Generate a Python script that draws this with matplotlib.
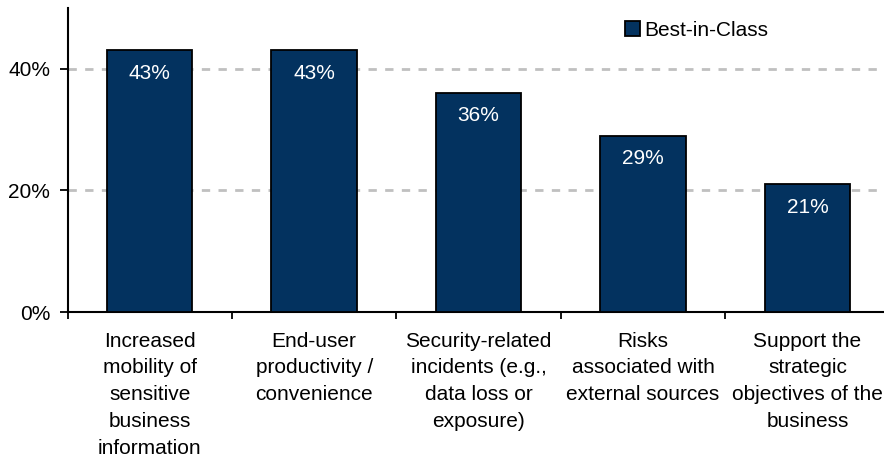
import matplotlib
matplotlib.use("Agg")
import matplotlib.pyplot as plt
from matplotlib.ticker import FuncFormatter, FixedLocator

plt.rcParams['font.family'] = ['Liberation Sans', 'DejaVu Sans']

categories = [
    "Increased\nmobility of\nsensitive\nbusiness\ninformation",
    "End-user\nproductivity /\nconvenience",
    "Security-related\nincidents (e.g.,\ndata loss or\nexposure)",
    "Risks\nassociated with\nexternal sources",
    "Support the\nstrategic\nobjectives of the\nbusiness",
]
best_in_class = [0.43, 0.43, 0.36, 0.29, 0.21]
bar_color = "#03325F"
fs = 15

fig = plt.figure(figsize=(8.84, 4.61), dpi=100)
ax = fig.add_axes([0.0764, 0.323, 0.93, 0.66])

x = list(range(len(categories)))
ax.bar(x, best_in_class, width=0.52, color=bar_color, edgecolor="black",
       linewidth=1.3, label="Best-in-Class", zorder=3)

for xi, v in zip(x, best_in_class):
    ax.text(xi, v - 0.022, f"{v*100:.0f}%", ha="center", va="top",
            color="white", fontsize=fs, zorder=4)

ax.set_xlim(-0.5, 4.5)
ax.set_ylim(0, 0.5)
ax.set_yticks([0, 0.2, 0.4])
ax.yaxis.set_major_formatter(FuncFormatter(lambda v, p: f"{v*100:.0f}%"))
ax.tick_params(axis="y", labelsize=fs, length=5.5, width=1.3, direction="out", pad=7)

# category labels centered, ticks between categories
ax.set_xticks(x)
ax.set_xticklabels(categories, fontsize=fs, linespacing=1.52)
ax.tick_params(axis="x", which="major", length=0, pad=14)
ax.xaxis.set_minor_locator(FixedLocator([-0.5, 0.5, 1.5, 2.5, 3.5]))
ax.tick_params(axis="x", which="minor", length=5, width=1.3, direction="out")

for yv in [0.2, 0.4]:
    ax.axhline(yv, color="#C0C0C0", linestyle=(0, (3, 3)), linewidth=2, zorder=1)

for s in ["top", "right"]:
    ax.spines[s].set_visible(False)
ax.spines["left"].set_linewidth(1.5)
ax.spines["bottom"].set_linewidth(1.5)

ax.legend(loc="upper left", bbox_to_anchor=(0.655, 1.02), frameon=False, fontsize=fs,
          handlelength=0.75, handleheight=0.75, handletextpad=0.2)

fig.savefig("out.png", dpi=100)
